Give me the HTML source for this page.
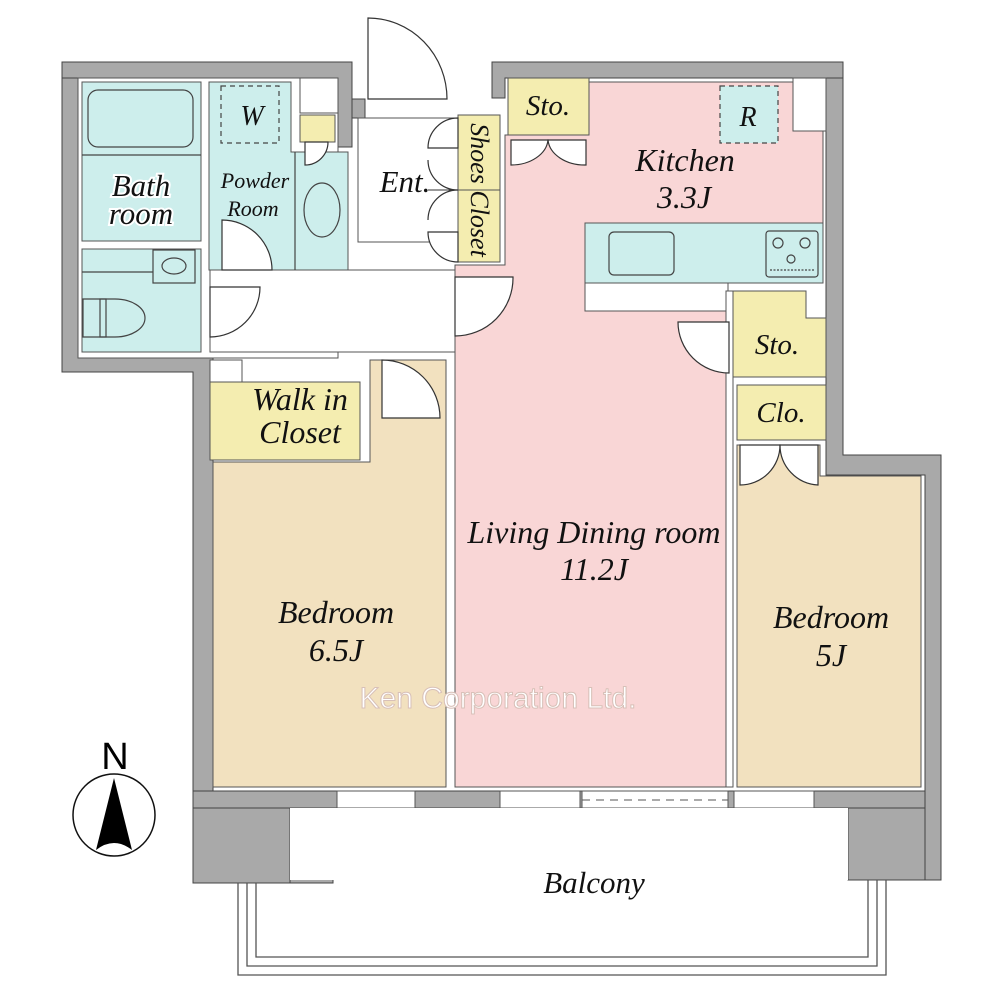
<!DOCTYPE html>
<html><head><meta charset="utf-8"><style>
html,body{margin:0;padding:0;background:#fff}
svg{display:block}
text{font-family:"Liberation Serif",serif;font-style:italic;fill:#111}
</style></head><body>
<svg width="1000" height="1000" viewBox="0 0 1000 1000" xmlns="http://www.w3.org/2000/svg">
<g fill="#a9a9a9" stroke="#444" stroke-width="1">
<path d="M62,62 H352 V99 H365 V118 H352 V147 H338 V358 H210 V372 H193 V883 H333 V808 H848 V880 H941 V455 H843 V62 H492 V98 H505 V78 H826 V475 H925 V791 H213 V372 H78 V78 H62 Z"/>
<path d="M62,62 V372 H193 V883 H213 V358 H78 V78 H62 Z"/>
<path d="M193,791 H940 V808 H193 Z"/>
<path d="M193,808 H290 V883 H193 Z"/>
<path d="M848,808 H940 V880 H848 Z"/>
<path d="M826,62 H843 V455 H941 V880 H925 V475 H826 Z"/>
<path d="M492,62 H843 V78 H505 V98 H492 Z"/>
<path d="M62,62 H352 V147 H338 V78 H62 Z"/>
</g>
<g fill="#fff" stroke="#555" stroke-width="1">
<rect x="337" y="791" width="78" height="17"/>
<rect x="500" y="791" width="80" height="17"/>
<rect x="582" y="791" width="146" height="17"/>
<rect x="734" y="791" width="80" height="17"/>
</g>
<line x1="582" y1="800" x2="728" y2="800" stroke="#555" stroke-dasharray="8,6"/>
<g fill="#fff" stroke="#555" stroke-width="1">
<rect x="78" y="78" width="260" height="280"/>
<rect x="300" y="78" width="38" height="35"/>
<rect x="358" y="118" width="100" height="124"/>
<rect x="210" y="270" width="245" height="82"/>
<rect x="793" y="78" width="33" height="53"/>
<rect x="210" y="360" width="32" height="22"/>
</g>
<g fill="#cdeeec" stroke="#555" stroke-width="1">
<rect x="82" y="82" width="119" height="159"/>
<rect x="82" y="249" width="119" height="103"/>
<path d="M209,82 H291 V152 H348 V270 H209 Z"/>
</g>
<g fill="#f4edb0" stroke="#555" stroke-width="1">
<rect x="300" y="115" width="35" height="27"/>
<rect x="458" y="115" width="42" height="147"/>
<rect x="508" y="78" width="81" height="57"/>
<path d="M733,291 H806 V318 H826 V377 H733 Z"/>
<rect x="737" y="385" width="89" height="55"/>
<rect x="210" y="382" width="150" height="78"/>
</g>
<line x1="458" y1="190" x2="500" y2="190" stroke="#555"/>
<path d="M505,135 H589 V82 H793 V131 H823 V223 H585 V311 H728 V787 H455 V265 H505 Z" fill="#f9d6d6" stroke="#555"/>
<rect x="585" y="223" width="238" height="60" fill="#cdeeec" stroke="#555"/>
<rect x="585" y="283" width="143" height="28" fill="#fff" stroke="#555"/>
<rect x="726" y="291" width="7" height="496" fill="#fff" stroke="#555"/>
<g fill="none" stroke="#444" stroke-width="1.2">
<rect x="88" y="90" width="105" height="57" rx="10"/>
<line x1="82" y1="155" x2="201" y2="155"/>
<line x1="82" y1="272" x2="153" y2="272"/>
<rect x="153" y="250" width="42" height="33"/>
<ellipse cx="174" cy="266" rx="12" ry="8"/>
<path d="M83,299 H115 A30,19 0 0 1 115,337 H83 Z"/>
<rect x="100" y="299" width="6" height="38"/>
<line x1="295" y1="152" x2="295" y2="270"/>
<ellipse cx="322" cy="210" rx="18" ry="27"/>
<rect x="221" y="86" width="58" height="57" stroke-dasharray="5,4"/>
<rect x="720" y="86" width="58" height="57" stroke-dasharray="5,4" fill="#cdeeec"/>
<rect x="609" y="232" width="65" height="43" rx="5"/>
<rect x="766" y="231" width="52" height="46" rx="3"/>
<circle cx="778" cy="243" r="5"/><circle cx="805" cy="243" r="5"/><circle cx="791" cy="259" r="4"/>
<line x1="770" y1="270" x2="814" y2="270" stroke-dasharray="2,1.5"/>
</g>
<path d="M370,360 H446 V787 H213 V462 H370 Z" fill="#f2e1bf" stroke="#555"/>
<path d="M737,445 H820 V476 H921 V787 H737 Z" fill="#f2e1bf" stroke="#555"/>
<g fill="#fff" stroke="#333" stroke-width="1.2">
<path d="M368,18 V99 H447 A79,81 0 0 0 368,18 Z"/>
<path d="M222,220 V270 H272 A50,50 0 0 0 222,220 Z"/>
<path d="M210,287 V337 A50,50 0 0 0 260,287 Z"/>
<path d="M455,277 V336 A58,58 0 0 0 513,277 Z"/>
<path d="M382,360 V418 H440 A58,58 0 0 0 382,360 Z"/>
<path d="M678,322 A51,51 0 0 0 729,373 V322 Z"/>
<path d="M511,140 V165 A37,27 0 0 0 548,140 Z"/>
<path d="M586,140 V165 A37,27 0 0 1 548,140 Z"/>
<path d="M740,445 V485 A40,40 0 0 0 780,445 Z"/>
<path d="M818,445 V485 A40,40 0 0 1 780,445 Z"/>
<path d="M458,118 A30,30 0 0 0 428,148 H458 Z"/>
<path d="M458,190 A30,30 0 0 1 428,160 M458,190 A30,30 0 0 0 428,220" fill="none"/>
<path d="M458,262 A30,30 0 0 1 428,232 H458 Z"/>
<path d="M305,142 V165 A23,23 0 0 0 328,142 Z"/>
</g>
<line x1="428" y1="190" x2="458" y2="190" stroke="#333"/>
<rect x="290" y="808" width="558" height="72" fill="#fff"/>
<g fill="none" stroke="#555" stroke-width="1.3">
<path d="M238,883 V975 H886 V880"/>
<path d="M247,883 V966 H877 V880"/>
<path d="M256,883 V957 H868 V880"/>
</g>
<text x="141" y="196" font-size="31" text-anchor="middle" stroke="#fff" stroke-width="4" paint-order="stroke">Bath</text>
<text x="141" y="224" font-size="31" text-anchor="middle" stroke="#fff" stroke-width="4" paint-order="stroke">room</text>
<text x="252" y="125" font-size="28" text-anchor="middle">W</text>
<text x="255" y="188" font-size="22" text-anchor="middle">Powder</text>
<text x="253" y="216" font-size="22" text-anchor="middle">Room</text>
<text x="405" y="192" font-size="31" text-anchor="middle">Ent.</text>
<text x="0" y="0" font-size="26" text-anchor="middle" transform="translate(471,190) rotate(90)">Shoes Closet</text>
<text x="548" y="115" font-size="29" text-anchor="middle">Sto.</text>
<text x="748" y="126" font-size="28" text-anchor="middle">R</text>
<text x="685" y="171" font-size="32" text-anchor="middle">Kitchen</text>
<text x="684" y="208" font-size="32" text-anchor="middle">3.3J</text>
<text x="777" y="354" font-size="29" text-anchor="middle">Sto.</text>
<text x="781" y="422" font-size="29" text-anchor="middle">Clo.</text>
<text x="300" y="410" font-size="32" text-anchor="middle">Walk in</text>
<text x="300" y="443" font-size="32" text-anchor="middle">Closet</text>
<text x="594" y="543" font-size="32" text-anchor="middle">Living Dining room</text>
<text x="594" y="580" font-size="32" text-anchor="middle">11.2J</text>
<text x="336" y="623" font-size="32" text-anchor="middle">Bedroom</text>
<text x="336" y="661" font-size="32" text-anchor="middle">6.5J</text>
<text x="831" y="628" font-size="32" text-anchor="middle">Bedroom</text>
<text x="831" y="666" font-size="32" text-anchor="middle">5J</text>
<text x="594" y="893" font-size="31" text-anchor="middle">Balcony</text>
<text x="498" y="708" font-size="30" text-anchor="middle" style="font-style:normal;font-family:'Liberation Sans',sans-serif;fill:#fff;stroke:#d8c0b8;stroke-width:1">Ken Corporation Ltd.</text>
<circle cx="114" cy="815" r="41" fill="#fff" stroke="#111" stroke-width="1.5"/>
<path d="M114,778 L132,850 Q114,836 96,850 Z" fill="#000"/>
<text x="115" y="769" font-size="38" text-anchor="middle" style="font-style:normal;font-family:'Liberation Sans',sans-serif;fill:#000">N</text>
</svg>
</body></html>
